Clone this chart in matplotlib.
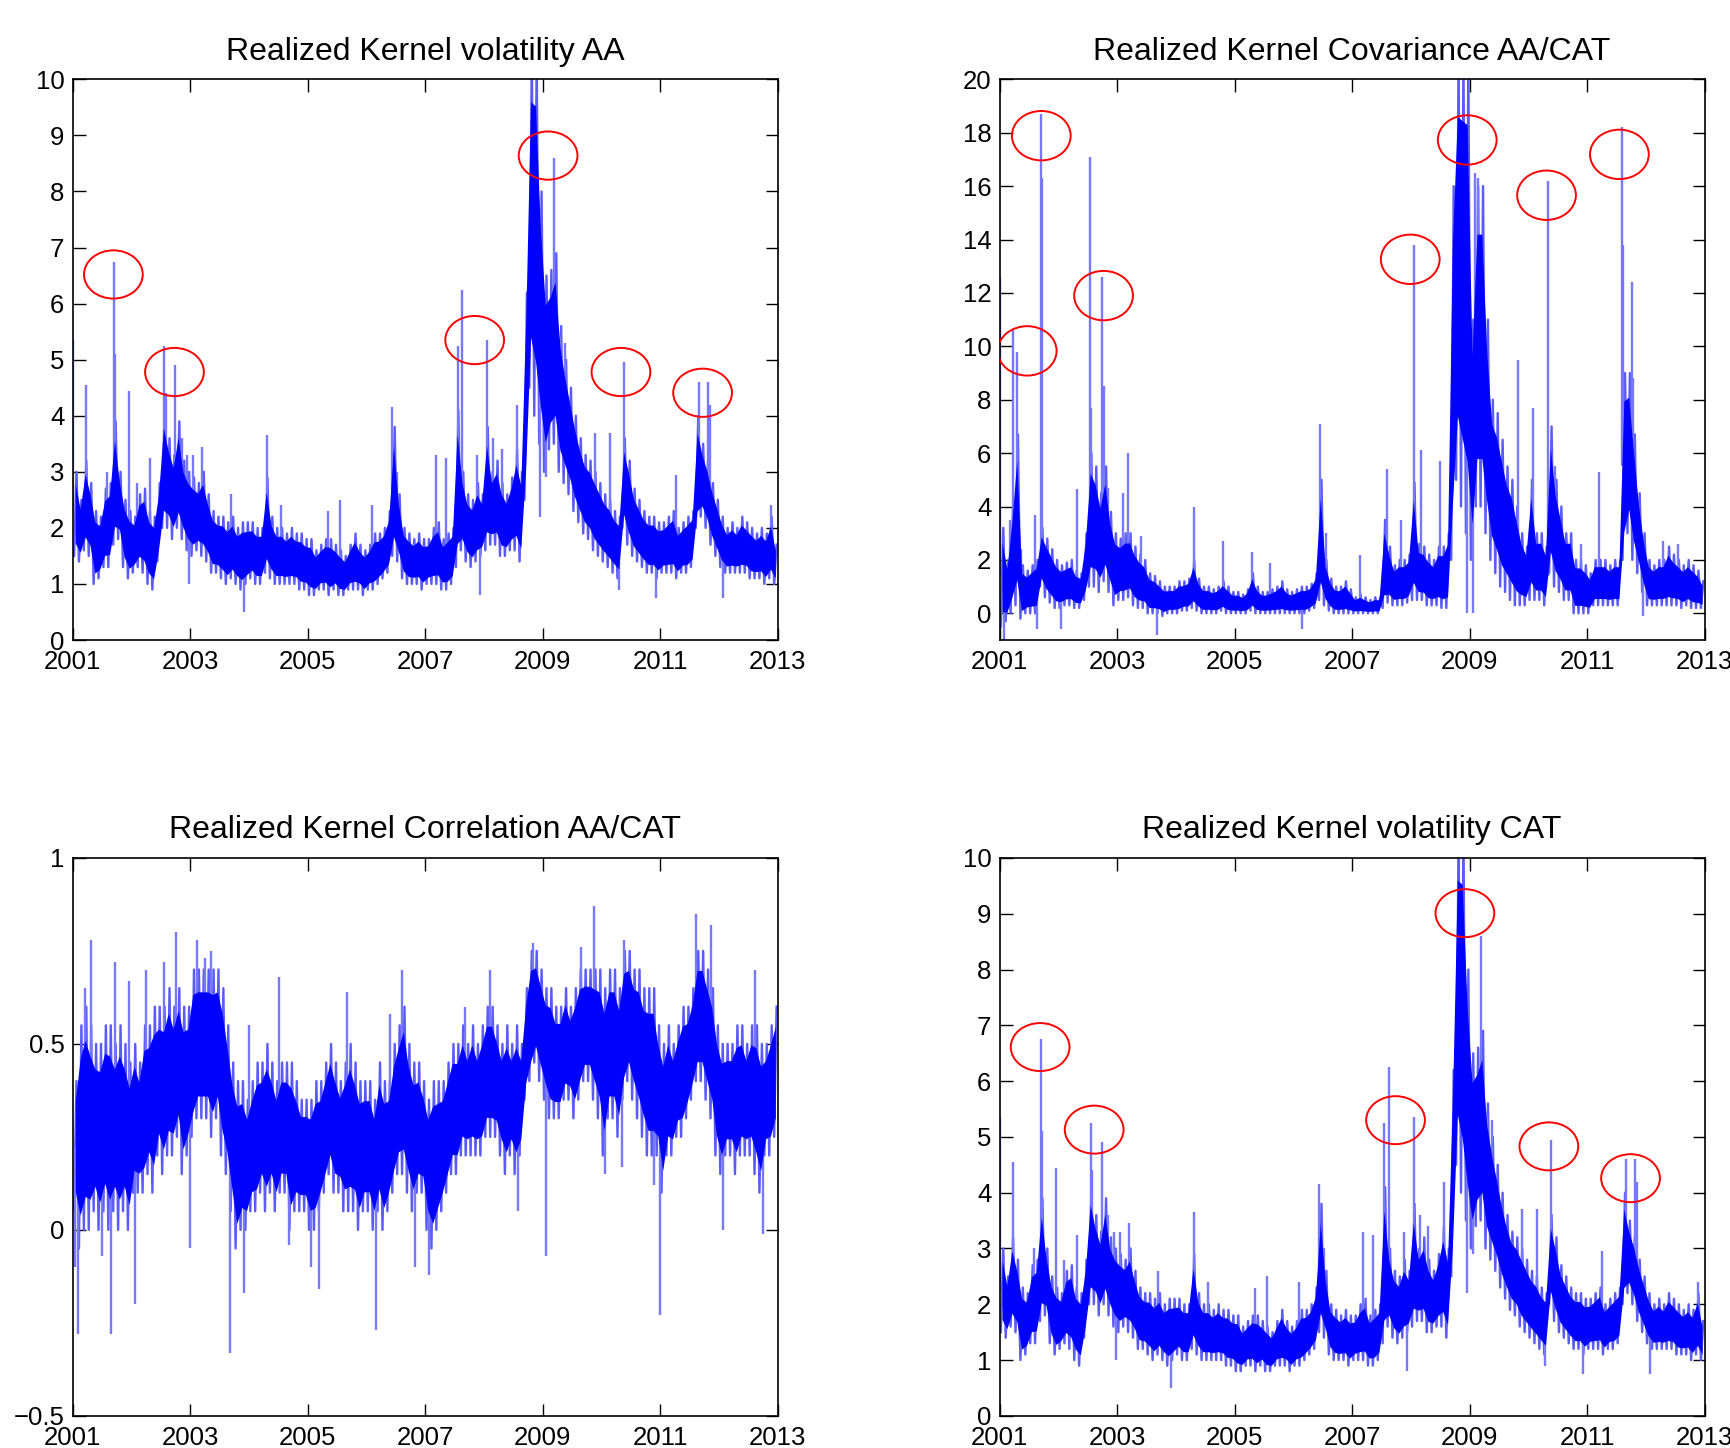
import numpy as np
import matplotlib.pyplot as plt
from matplotlib.patches import Ellipse

plt.rcParams['font.family'] = ['Liberation Sans', 'DejaVu Sans']

# monthly low / high of the daily band, Jan 2001 .. Dec 2012
aa_lo = [1.5, 1.4, 1.6, 1.5, 1.0, 1.1, 1.3, 1.3, 1.7, 1.8, 1.3, 1.1,
         1.2, 1.3, 1.2, 1.0, 0.9, 1.4, 2.0, 2.0, 1.8, 2.0, 1.8, 1.6,
         1.5, 1.6, 1.5, 1.4, 1.2, 1.2, 1.1, 1.0, 1.1, 1.0, 0.9, 1.0,
         1.1, 1.0, 1.0, 1.2, 1.1, 1.0, 1.0, 1.0, 1.0, 1.0, 0.9, 0.9,
         0.8, 0.8, 0.9, 0.9, 0.8, 0.9, 0.8, 0.8, 0.9, 0.9, 0.9, 0.8,
         0.9, 0.9, 1.0, 1.1, 1.2, 1.5, 1.4, 1.1, 1.0, 1.0, 1.0, 0.9,
         1.0, 1.0, 1.0, 0.9, 0.9, 1.0, 1.3, 1.6, 1.4, 1.3, 1.4, 1.5,
         1.6, 1.7, 1.7, 1.5, 1.5, 1.6, 1.6, 1.4, 2.5, 4.5, 4.0, 3.5,
         3.0, 3.4, 3.5, 3.0, 2.8, 2.6, 2.3, 2.1, 1.9, 1.8, 1.6, 1.5,
         1.4, 1.3, 1.2, 1.1, 2.0, 1.7, 1.5, 1.4, 1.3, 1.2, 1.2, 1.1,
         1.2, 1.2, 1.2, 1.1, 1.2, 1.2, 1.3, 2.0, 2.2, 2.0, 1.7, 1.5,
         1.3, 1.2, 1.2, 1.2, 1.2, 1.2, 1.1, 1.1, 1.1, 1.0, 1.1, 1.0]
aa_hi = [3.0, 2.5, 3.2, 2.8, 2.3, 2.2, 2.7, 2.8, 3.9, 3.0, 2.5, 2.3,
         2.2, 2.6, 2.7, 2.3, 2.2, 2.8, 4.1, 3.6, 3.3, 3.9, 3.2, 3.0,
         2.9, 2.8, 3.0, 2.6, 2.3, 2.2, 2.2, 2.1, 2.2, 2.0, 2.1, 2.1,
         2.1, 2.0, 2.0, 2.9, 2.2, 2.0, 2.0, 1.9, 2.0, 1.9, 1.9, 1.8,
         1.8, 1.6, 1.7, 1.8, 1.8, 1.7, 1.6, 1.5, 1.7, 1.9, 1.7, 1.6,
         1.7, 1.9, 1.9, 2.0, 2.3, 3.8, 2.6, 2.0, 1.9, 1.8, 1.9, 1.8,
         1.8, 2.0, 2.1, 1.8, 1.9, 2.0, 4.1, 3.0, 2.6, 2.5, 2.8, 2.6,
         3.8, 3.0, 3.2, 2.8, 2.6, 2.9, 3.4, 3.0, 6.2, 10.5, 10.5, 8.0,
         6.5, 6.6, 6.9, 5.6, 5.0, 4.5, 4.0, 3.6, 3.3, 3.2, 3.0, 2.8,
         2.6, 2.5, 2.3, 2.2, 3.6, 3.2, 2.7, 2.5, 2.3, 2.2, 2.2, 2.1,
         2.1, 2.2, 2.3, 2.0, 2.1, 2.2, 2.3, 4.0, 3.5, 3.2, 2.8, 2.5,
         2.2, 2.0, 2.1, 2.0, 2.2, 2.1, 2.0, 1.9, 2.0, 1.9, 2.2, 1.7]
aa_spikes = [(2001.00, 5.35), (2001.23, 4.55), (2001.58, 3.0), (2001.70, 6.75), (2001.72, 5.1),
             (2001.96, 4.45), (2002.10, 2.8), (2002.32, 3.25), (2002.55, 5.25), (2002.58, 4.4),
             (2002.74, 4.9), (2002.85, 3.6), (2002.95, 3.3), (2002.98, 1.0), (2003.05, 3.3),
             (2003.20, 3.45), (2003.70, 2.6), (2003.91, 0.5), (2004.31, 3.65), (2004.55, 2.4),
             (2005.35, 2.3), (2005.55, 2.5), (2006.10, 2.4), (2006.43, 4.15), (2006.52, 3.0),
             (2007.18, 3.3), (2007.36, 3.25), (2007.55, 5.25), (2007.62, 6.25), (2007.88, 3.3),
             (2007.93, 0.8), (2008.05, 5.35), (2008.16, 3.6), (2008.30, 3.4), (2008.56, 4.2),
             (2008.95, 2.2), (2009.05, 2.9), (2009.19, 8.6), (2009.30, 5.4), (2009.38, 5.3),
             (2009.89, 3.7), (2010.14, 3.7), (2010.29, 0.9), (2010.38, 4.95), (2010.93, 0.75),
             (2011.26, 2.95), (2011.66, 4.6), (2011.81, 4.6), (2011.85, 4.2), (2012.07, 0.75),
             (2012.88, 2.4)]

cov_lo = [-0.5, -0.3, 0.0, 0.3, -0.2, 0.0, 0.0, 0.0, 1.0, 0.6, 0.4, 0.2,
          0.2, 0.3, 0.3, 0.2, 0.2, 0.5, 1.0, 1.0, 0.8, 1.2, 0.8, 0.3,
          0.5, 0.5, 0.6, 0.3, 0.2, 0.2, 0.0, 0.0, 0.0, -0.1, 0.0, 0.0,
          0.0, 0.1, 0.1, 0.2, 0.1, 0.0, 0.0, 0.0, 0.0, 0.1, 0.0, 0.0,
          0.0, 0.0, 0.0, 0.1, 0.0, 0.0, 0.0, 0.0, 0.0, 0.0, 0.0, 0.0,
          0.0, 0.0, 0.0, 0.1, 0.2, 0.5, 0.3, 0.1, 0.0, 0.0, 0.0, 0.0,
          0.0, 0.0, 0.0, 0.0, 0.0, 0.0, 0.2, 0.4, 0.3, 0.3, 0.3, 0.4,
          0.5, 0.5, 0.5, 0.3, 0.3, 0.3, 0.2, 0.2, 2.0, 5.0, 4.0, 3.0,
          2.0, 4.0, 4.0, 3.0, 2.0, 1.5, 1.0, 0.8, 0.5, 0.3, 0.3, 0.3,
          0.5, 0.5, 0.5, 0.3, 1.5, 1.0, 0.8, 0.5, 0.5, 0.0, 0.0, 0.0,
          0.0, 0.3, 0.3, 0.3, 0.3, 0.3, 0.3, 2.0, 3.0, 2.0, 1.5, 0.8,
          0.3, 0.3, 0.3, 0.3, 0.3, 0.3, 0.3, 0.2, 0.3, 0.2, 0.2, 0.2]
cov_hi = [3.2, 2.0, 4.0, 6.7, 1.8, 1.6, 1.8, 2.0, 3.2, 2.8, 2.4, 2.0,
          1.8, 1.9, 2.0, 1.6, 1.5, 3.0, 6.0, 5.5, 4.5, 5.5, 3.8, 3.0,
          2.8, 3.0, 3.0, 2.5, 2.2, 2.0, 1.5, 1.4, 1.2, 1.0, 1.0, 1.0,
          1.2, 1.2, 1.3, 2.0, 1.3, 1.0, 1.0, 0.9, 1.0, 1.2, 1.0, 0.8,
          0.8, 0.7, 0.9, 1.5, 1.0, 0.8, 0.8, 0.9, 1.0, 1.2, 0.9, 0.8,
          0.9, 1.0, 1.0, 1.1, 1.5, 5.0, 2.0, 1.3, 1.0, 1.0, 1.2, 0.9,
          0.6, 0.7, 0.6, 0.5, 0.6, 0.6, 3.5, 2.5, 1.8, 2.0, 2.0, 2.2,
          4.9, 2.6, 2.5, 2.2, 2.0, 2.5, 2.5, 3.0, 16.0, 21.0, 21.0, 21.0,
          11.0, 16.0, 16.0, 11.0, 8.0, 7.5, 6.5, 5.5, 5.0, 4.0, 3.0, 2.5,
          5.0, 3.0, 3.0, 2.5, 7.0, 5.0, 4.0, 3.0, 3.0, 2.0, 2.0, 1.8,
          1.5, 2.0, 2.0, 2.0, 1.8, 2.0, 2.0, 9.0, 9.0, 6.7, 4.5, 3.0,
          2.0, 1.8, 2.0, 2.0, 2.5, 2.2, 2.0, 1.8, 2.0, 1.8, 1.6, 1.2]
cov_spikes = [(2001.00, 12.6), (2001.07, -1.0), (2001.17, 3.5), (2001.23, 10.6), (2001.30, 9.8),
              (2001.37, 2.4), (2001.60, 3.7), (2001.64, -0.6), (2001.70, 18.7), (2001.72, 16.3),
              (2002.05, -0.6), (2002.32, 4.65), (2002.54, 17.1), (2002.56, 7.7), (2002.75, 12.6),
              (2002.77, 8.5), (2002.85, 4.7), (2003.10, 4.5), (2003.18, 6.0), (2003.40, 2.9),
              (2003.68, -0.8), (2004.31, 4.0), (2004.81, 2.7), (2005.29, 2.3), (2005.60, 1.9),
              (2006.14, -0.6), (2006.45, 7.1), (2006.55, 3.0), (2007.14, 2.2), (2007.60, 5.4),
              (2007.84, 3.5), (2008.05, 13.8), (2008.18, 6.1), (2008.50, 5.7), (2008.96, 0.0),
              (2009.06, 0.0), (2009.10, 16.5), (2009.15, 16.3), (2009.83, 9.5), (2010.08, 7.7),
              (2010.33, 16.2), (2010.45, 5.5), (2010.90, 2.6), (2011.20, 5.3), (2011.59, 18.2),
              (2011.61, 13.8), (2011.76, 12.4), (2011.79, 8.8), (2011.95, -0.1), (2012.30, 2.7),
              (2012.55, 2.6)]

corr_lo = [0.05, -0.05, 0.0, 0.0, 0.05, 0.0, 0.05, 0.0, 0.05, 0.0, 0.05, 0.0,
           0.1, 0.1, 0.1, 0.15, 0.1, 0.2, 0.15, 0.2, 0.2, 0.25, 0.15, 0.2,
           0.25, 0.3, 0.3, 0.3, 0.25, 0.3, 0.2, 0.15, 0.05, -0.05, 0.0, 0.0,
           0.05, 0.05, 0.1, 0.05, 0.1, 0.05, 0.1, 0.1, 0.0, 0.05, 0.05, 0.05,
           0.0, 0.0, 0.05, 0.1, 0.15, 0.1, 0.1, 0.05, 0.05, 0.05, 0.0, 0.05,
           0.05, 0.0, 0.05, 0.0, 0.05, 0.1, 0.15, 0.15, 0.1, 0.05, 0.1, 0.1,
           0.0, -0.05, 0.0, 0.05, 0.1, 0.15, 0.15, 0.2, 0.2, 0.2, 0.2, 0.2,
           0.25, 0.25, 0.25, 0.2, 0.15, 0.2, 0.15, 0.2, 0.35, 0.4, 0.45, 0.4,
           0.35, 0.3, 0.3, 0.3, 0.35, 0.35, 0.3, 0.35, 0.4, 0.4, 0.35, 0.3,
           0.2, 0.3, 0.3, 0.25, 0.35, 0.4, 0.35, 0.3, 0.25, 0.2, 0.2, 0.2,
           0.1, 0.2, 0.2, 0.25, 0.25, 0.3, 0.35, 0.4, 0.4, 0.35, 0.3, 0.2,
           0.15, 0.2, 0.2, 0.15, 0.2, 0.2, 0.2, 0.15, 0.1, 0.2, 0.2, 0.25]
corr_hi = [0.4, 0.55, 0.6, 0.55, 0.5, 0.5, 0.55, 0.55, 0.5, 0.55, 0.5, 0.45,
           0.5, 0.45, 0.55, 0.55, 0.6, 0.6, 0.6, 0.65, 0.6, 0.65, 0.6, 0.6,
           0.7, 0.7, 0.7, 0.7, 0.7, 0.7, 0.65, 0.55, 0.45, 0.4, 0.4, 0.35,
           0.4, 0.45, 0.45, 0.5, 0.45, 0.4, 0.45, 0.45, 0.45, 0.4, 0.35, 0.35,
           0.35, 0.4, 0.4, 0.45, 0.5, 0.45, 0.4, 0.45, 0.5, 0.45, 0.4, 0.4,
           0.4, 0.35, 0.45, 0.4, 0.4, 0.5, 0.55, 0.6, 0.5, 0.45, 0.45, 0.4,
           0.35, 0.4, 0.4, 0.4, 0.45, 0.5, 0.5, 0.55, 0.5, 0.55, 0.5, 0.55,
           0.6, 0.6, 0.55, 0.5, 0.55, 0.5, 0.55, 0.5, 0.65, 0.75, 0.75, 0.7,
           0.65, 0.65, 0.6, 0.6, 0.65, 0.6, 0.65, 0.7, 0.7, 0.7, 0.7, 0.7,
           0.65, 0.7, 0.7, 0.65, 0.75, 0.75, 0.7, 0.7, 0.65, 0.65, 0.65, 0.55,
           0.5, 0.55, 0.5, 0.55, 0.6, 0.6, 0.65, 0.75, 0.75, 0.7, 0.65, 0.55,
           0.5, 0.5, 0.5, 0.55, 0.55, 0.5, 0.55, 0.55, 0.5, 0.5, 0.55, 0.6]
corr_spikes = [(2001.04, -0.1), (2001.08, -0.28), (2001.20, 0.65), (2001.31, 0.78), (2001.50, -0.07),
               (2001.65, -0.28), (2001.72, 0.72), (2001.95, 0.67), (2002.05, -0.2), (2002.25, 0.7),
               (2002.55, 0.72), (2002.75, 0.8), (2003.00, -0.05), (2003.12, 0.78), (2003.25, 0.73),
               (2003.35, 0.75), (2003.68, -0.33), (2003.91, -0.17), (2004.00, 0.55), (2004.51, 0.68),
               (2004.68, -0.04), (2005.05, -0.1), (2005.19, -0.16), (2005.66, 0.64), (2006.16, -0.27),
               (2006.40, 0.58), (2006.61, 0.7), (2006.82, -0.1), (2007.07, -0.12), (2007.67, 0.6),
               (2008.10, 0.7), (2008.58, 0.05), (2008.83, 0.77), (2009.06, -0.07), (2009.65, 0.76),
               (2009.87, 0.87), (2010.05, 0.15), (2010.34, 0.17), (2010.39, 0.78), (2010.90, 0.12),
               (2011.00, -0.23), (2011.61, 0.85), (2011.87, 0.82), (2012.06, 0.0), (2012.62, 0.7),
               (2012.74, -0.01)]

# CAT volatility panel shows the same path as AA in the source figure
cat_lo = list(aa_lo)
cat_hi = list(aa_hi)
cat_spikes = list(aa_spikes)

# red circles (centre year, centre value)
aa_circles = [(2001.69, 6.52), (2002.73, 4.78), (2007.84, 5.35), (2009.09, 8.64), (2010.33, 4.78), (2011.72, 4.41)]
cov_circles = [(2001.47, 9.83), (2001.71, 17.89), (2002.77, 11.9), (2007.99, 13.26), (2008.96, 17.73),
               (2010.31, 15.66), (2011.55, 17.19)]
cat_circles = [(2001.69, 6.61), (2002.61, 5.13), (2007.74, 5.3), (2008.92, 9.01), (2010.35, 4.83), (2011.74, 4.26)]

year_ticks = [2001, 2003, 2005, 2007, 2009, 2011, 2013]


def draw_series(ax, lo, hi, spikes):
    lo = np.asarray(lo, dtype=float)
    hi = np.asarray(hi, dtype=float)
    m = np.arange(len(lo))
    t = np.empty(2 * len(lo))
    v = np.empty(2 * len(lo))
    t[0::2] = 2001 + (m + 0.25) / 12
    t[1::2] = 2001 + (m + 0.75) / 12
    v[0::2] = lo
    v[1::2] = hi
    mid = 2001 + (m + 0.5) / 12
    # light outer zigzag, dark solid core on top
    ax.plot(t, v, color='#5a5aff', lw=1.7, zorder=2)
    ax.fill_between(mid, lo + 0.15 * (hi - lo), hi - 0.15 * (hi - lo), color='#0000ff', lw=0, zorder=3)
    st = np.array([s[0] for s in spikes])
    sv = np.array([s[1] for s in spikes])
    idx = np.clip(((st - 2001) * 12).astype(int), 0, len(lo) - 1)
    base = (lo[idx] + hi[idx]) / 2
    ax.vlines(st, base, sv, color='#7878ff', lw=1.7, zorder=2)


def style_axes(ax, title, ylim, yticks, ylabels):
    ax.set_xlim(2001, 2013)
    ax.set_ylim(*ylim)
    ax.set_xticks(year_ticks)
    ax.set_xticklabels([str(y) for y in year_ticks])
    ax.set_yticks(yticks)
    ax.set_yticklabels(ylabels)
    ax.tick_params(direction='in', top=True, right=True, length=9, width=1.0, labelsize=18.5)
    ax.tick_params(axis='x', pad=7.5)
    ax.tick_params(axis='y', pad=6)
    for sp in ax.spines.values():
        sp.set_linewidth(1.2)
        sp.set_zorder(4)
    ax.set_title(title, fontsize=23, pad=14)


def add_circles(ax, circles, w, h):
    for cx, cy in circles:
        ax.add_patch(Ellipse((cx, cy), w, h, fill=False, edgecolor='red', lw=1.4, zorder=5))


fig = plt.figure(figsize=(17.3, 14.48), dpi=100)
ax1 = fig.add_axes([0.0421, 0.558, 0.4075, 0.3872])
ax2 = fig.add_axes([0.5778, 0.558, 0.4075, 0.3872])
ax3 = fig.add_axes([0.0421, 0.0222, 0.4075, 0.3853])
ax4 = fig.add_axes([0.5778, 0.0222, 0.4075, 0.3853])

draw_series(ax1, aa_lo, aa_hi, aa_spikes)
style_axes(ax1, 'Realized Kernel volatility AA', (0, 10), list(range(0, 11)), [str(i) for i in range(0, 11)])
add_circles(ax1, aa_circles, 1.0, 0.86)

draw_series(ax2, cov_lo, cov_hi, cov_spikes)
style_axes(ax2, 'Realized Kernel Covariance AA/CAT', (-1, 20), list(range(0, 21, 2)), [str(i) for i in range(0, 21, 2)])
add_circles(ax2, cov_circles, 1.0, 1.85)

draw_series(ax3, corr_lo, corr_hi, corr_spikes)
style_axes(ax3, 'Realized Kernel Correlation AA/CAT', (-0.5, 1), [-0.5, 0, 0.5, 1], ['\u22120.5', '0', '0.5', '1'])

draw_series(ax4, cat_lo, cat_hi, cat_spikes)
style_axes(ax4, 'Realized Kernel volatility CAT', (0, 10), list(range(0, 11)), [str(i) for i in range(0, 11)])
add_circles(ax4, cat_circles, 1.0, 0.86)

fig.savefig('out.png', dpi=100)
